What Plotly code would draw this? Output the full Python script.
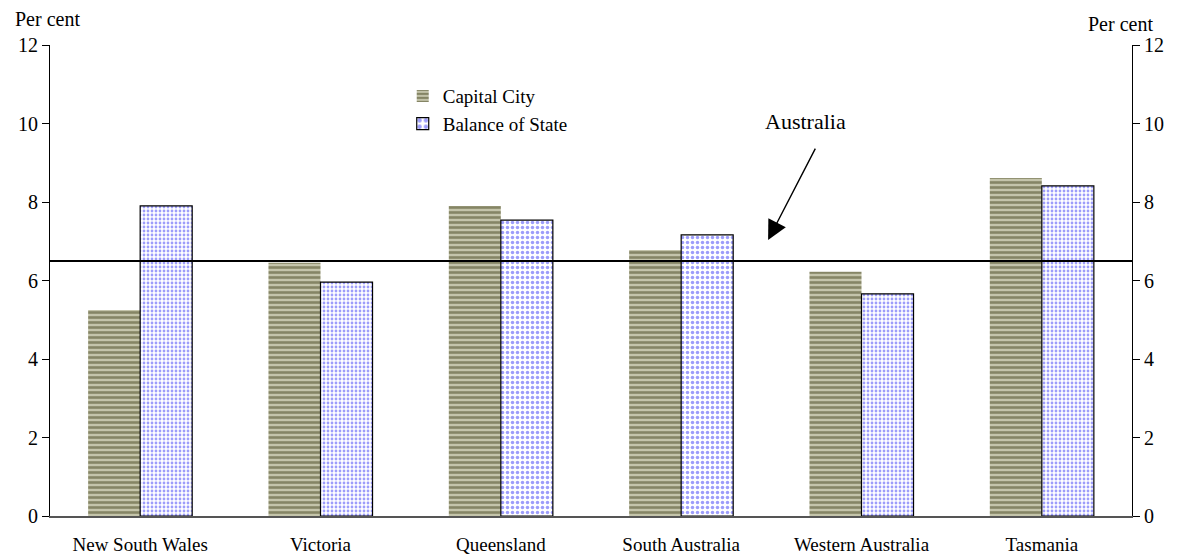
import plotly.graph_objects as go

categories = ["New South Wales", "Victoria", "Queensland", "South Australia", "Western Australia", "Tasmania"]
capital_city = [5.25, 6.45, 7.9, 6.78, 6.22, 8.61]
balance_of_state = [7.9, 5.96, 7.54, 7.16, 5.66, 8.41]
australia = [6.5]
y_ticks = [0, 2, 4, 6, 8, 10, 12]

FONT = "Liberation Serif"

fig = go.Figure()
fig.add_trace(go.Bar(
    x=categories, y=capital_city, name="Capital City",
    marker=dict(color="#c4c4aa", line=dict(width=0),
                pattern=dict(shape="-", fgcolor="#46461f", bgcolor="#c4c4aa", size=5, solidity=0.52)),
))
fig.add_trace(go.Bar(
    x=categories, y=balance_of_state, name="Balance of State",
    marker=dict(color="white", line=dict(color="black", width=1.2),
                pattern=dict(shape=".", fgcolor="#3c3cf5", bgcolor="white",
                             size=[4, 4, 5, 5, 4, 4], solidity=0.38)),
))
# invisible trace to activate the right axis
fig.add_trace(go.Scatter(x=[categories[0]], y=[0], yaxis="y2", mode="markers",
                         marker=dict(opacity=0), showlegend=False, hoverinfo="skip"))

fig.add_hline(y=australia[0], line=dict(color="black", width=2))

# label and arrow for the Australia line
fig.add_annotation(x=3.692, y=10.06, xref="x", yref="y", text="Australia", showarrow=False,
                   font=dict(family=FONT, size=22, color="black"))
fig.add_annotation(x=3.482, y=7.03, xref="x", yref="y", text="",
                   showarrow=True, arrowhead=2, arrowsize=2.8, arrowwidth=1.4, arrowcolor="black",
                   ax=48, ay=-93)

fig.add_annotation(x=0, y=1, xref="paper", yref="paper", text="Per cent", showarrow=False,
                   xanchor="left", yanchor="middle", xshift=-37, yshift=26,
                   font=dict(family=FONT, size=20, color="black"))
fig.add_annotation(x=1, y=1, xref="paper", yref="paper", text="Per cent", showarrow=False,
                   xanchor="right", yanchor="middle", xshift=23, yshift=21,
                   font=dict(family=FONT, size=20, color="black"))

axis_common = dict(range=[0, 12], tickvals=y_ticks, ticks="outside", ticklen=7, tickcolor="black",
                   showline=True, linecolor="black", linewidth=1, showgrid=False, zeroline=False,
                   automargin=False, tickfont=dict(family=FONT, size=20, color="black"))

# page body adds an 8px offset, so the figure is sized to fill the remaining window
fig.update_layout(
    width=1172, height=552,
    margin=dict(l=42, r=48, t=37, b=44),
    paper_bgcolor="white", plot_bgcolor="white",
    barmode="group", bargap=0.423, bargroupgap=0,
    font=dict(family=FONT, color="black"),
    xaxis=dict(showline=True, linecolor="#555555", linewidth=1.5, ticks="", showgrid=False,
               automargin=False, tickfont=dict(family=FONT, size=19, color="black"),
               ticklabelstandoff=10),
    yaxis=dict(**axis_common, side="left"),
    yaxis2=dict(**axis_common, side="right", overlaying="y"),
    legend=dict(x=0.326, y=0.932, xanchor="left", yanchor="top", bgcolor="rgba(0,0,0,0)",
                font=dict(family=FONT, size=19, color="black"), itemwidth=30, tracegroupgap=0),
    showlegend=True,
)

fig.write_html("out.html")
